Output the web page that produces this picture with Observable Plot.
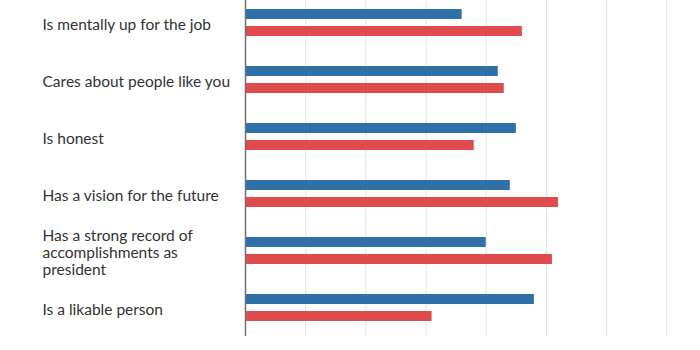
<!DOCTYPE html>
<html>
<head>
<meta charset="utf-8">
<script src="https://cdn.jsdelivr.net/npm/d3@7"></script>
<script src="https://cdn.jsdelivr.net/npm/@observablehq/plot@0.6"></script>
<style>
  html, body { margin: 0; padding: 0; background: #fff; }
  #chart { width: 700px; height: 350px; overflow: hidden; }
</style>
</head>
<body>
<div id="chart"></div>
<script>
const categories = [
  "Is mentally up for the job",
  "Cares about people like you",
  "Is honest",
  "Has a vision for the future",
  "Has a strong record of\naccomplishments as\npresident",
  "Is a likable person"
];
const series = ["Biden", "Trump"];
const bidenValues = [36, 42, 45, 44, 40, 48];
const trumpValues = [46, 43, 38, 52, 51, 31];
const gridTicks = [10, 20, 30, 40, 50, 60, 70];
const colors = ["#2f70a9", "#e04b4d"];

const data = [];
categories.forEach((c, i) => {
  data.push({category: c, series: series[0], value: bidenValues[i]});
  data.push({category: c, series: series[1], value: trumpValues[i]});
});

const chart = Plot.plot({
  width: 700,
  height: 350,
  marginLeft: 245,
  marginRight: 0,
  marginTop: -7,
  marginBottom: 13,
  style: {fontFamily: "Lato, sans-serif", fontSize: "15.5px", color: "#333", background: "#fff"},
  x: {domain: [0, 75.6], axis: null},
  y: {domain: series, axis: null, paddingInner: 0.425, paddingOuter: 0.856},
  fy: {domain: categories, axis: null, padding: 0},
  color: {domain: series, range: colors},
  marks: [
    Plot.ruleX(gridTicks, {stroke: "#e3e3e3", strokeWidth: 1}),
    Plot.barX(data, {fy: "category", y: "series", x: "value", fill: "series"}),
    Plot.ruleX([0], {stroke: "#707070", strokeWidth: 1.5}),
    Plot.text(categories, {
      fy: d => d,
      text: d => d,
      frameAnchor: "left",
      dx: -203,
      dy: 1.5,
      textAnchor: "start",
      lineHeight: 1.1,
      fill: "#333",
      fontSize: 15.5
    })
  ]
});
document.getElementById("chart").appendChild(chart);
</script>
</body>
</html>
